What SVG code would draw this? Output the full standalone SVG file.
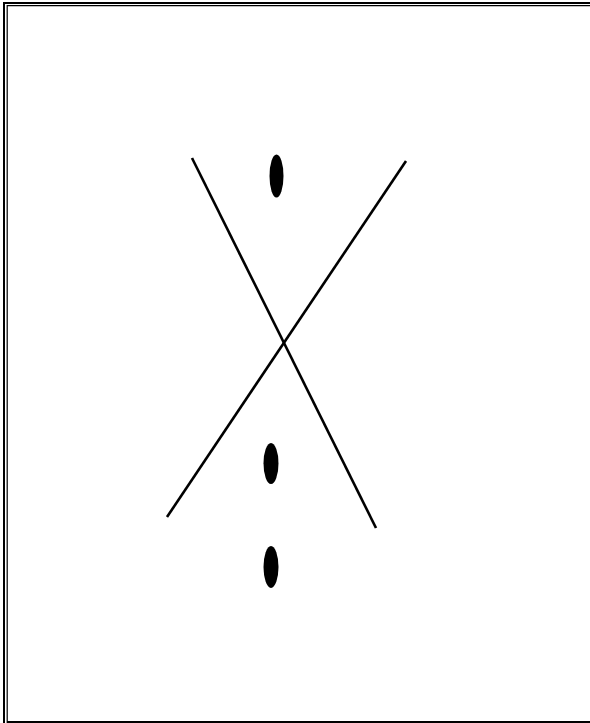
<svg xmlns="http://www.w3.org/2000/svg" width="590" height="723" viewBox="0 0 590 723">
<style>
.frame{fill:none;stroke:#000}
.ln{stroke:#000;stroke-width:2.6;stroke-linecap:butt;fill:none}
.dot{fill:#000}
</style>
<rect x="0" y="0" width="590" height="723" fill="#fff"/>
<g id="frame">
<path class="frame" stroke-width="2" d="M4 723 V3 H590"/>
<path class="frame" stroke-width="1.2" d="M7.2 721 V5.6 H590"/>
<path class="frame" stroke-width="2" d="M6.6 722 H590"/>
</g>
<g id="connectors">
<line class="ln" x1="192" y1="158" x2="376" y2="528"/>
<line class="ln" x1="406" y1="161" x2="167" y2="517"/>
</g>
<g id="dot-top"><ellipse class="dot" cx="276.5" cy="176" rx="7" ry="21.5"/></g>
<g id="dot-mid"><ellipse class="dot" cx="271" cy="463.5" rx="7.5" ry="20.5"/></g>
<g id="dot-bottom"><ellipse class="dot" cx="271" cy="567" rx="7.5" ry="21"/></g>
</svg>
